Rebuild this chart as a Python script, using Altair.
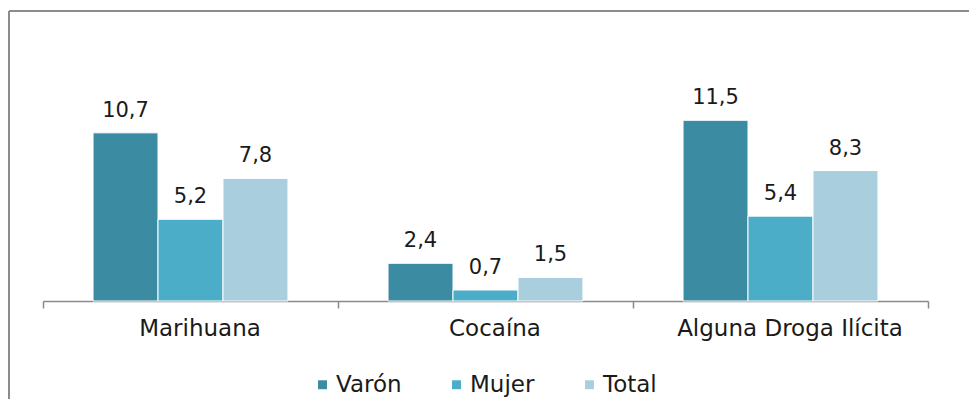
import altair as alt
import pandas as pd

categories = ["Marihuana", "Cocaína", "Alguna Droga Ilícita"]
series = ["Varón", "Mujer", "Total"]
varon = [10.7, 2.4, 11.5]
mujer = [5.2, 0.7, 5.4]
total = [7.8, 1.5, 8.3]
colors = ["#3b8ba3", "#4badc7", "#a9cfde"]

rows = []
for i, c in enumerate(categories):
    for s, vals in zip(series, [varon, mujer, total]):
        rows.append({"cat": c, "serie": s, "valor": vals[i],
                     "etiqueta": f"{vals[i]:.1f}".replace(".", ",")})
df = pd.DataFrame(rows)

FONT = "DejaVu Sans"

x_enc = alt.X("cat:N", sort=categories, title=None,
              scale=alt.Scale(paddingInner=0, paddingOuter=0),
              axis=alt.Axis(tickBand="extent", labelAngle=0, labelFontSize=23,
                            labelFont=FONT, labelColor="#1a1a1a", labelPadding=9,
                            labelLimit=0, labelOffset=9,
                            tickSize=7, tickColor="#8a8a8a", domainColor="#8a8a8a",
                            domainWidth=1.5, tickWidth=1.5, grid=False))
xo_enc = alt.XOffset("serie:N", sort=series,
                     scale=alt.Scale(paddingInner=0, paddingOuter=0.77))
y_scale = alt.Scale(domain=[0, 14])

base = alt.Chart(df)

bars = base.mark_bar(stroke="white", strokeWidth=1).encode(
    x=x_enc,
    xOffset=xo_enc,
    y=alt.Y("valor:Q", scale=y_scale, axis=None),
    color=alt.Color("serie:N", sort=series,
                    scale=alt.Scale(domain=series, range=colors),
                    legend=alt.Legend(title=None, orient="none", direction="horizontal",
                                      legendX=268, legendY=292, symbolType="square",
                                      symbolSize=80, symbolStrokeWidth=0,
                                      labelFontSize=23, labelFont=FONT,
                                      labelColor="#1a1a1a", labelOffset=2,
                                      columnPadding=43)),
)

labels = base.mark_text(baseline="alphabetic", dy=-16, fontSize=21, font=FONT,
                        color="#1a1a1a").encode(
    x=x_enc,
    xOffset=xo_enc,
    y=alt.Y("valor:Q", scale=y_scale, axis=None),
    text="etiqueta:N",
)

frame_data = alt.Data(values=[{"a": 1}])
top_line = alt.Chart(frame_data).mark_rule(color="#8c8c8c", strokeWidth=2).encode(
    x=alt.value(-34), x2=alt.value(1000), y=alt.value(-70))
left_line = alt.Chart(frame_data).mark_rule(color="#8c8c8c", strokeWidth=2).encode(
    x=alt.value(-34), y=alt.value(-70), y2=alt.value(400))

chart = alt.layer(bars, labels, top_line, left_line).properties(
    width=885, height=220,
    autosize=alt.AutoSizeParams(type="none"),
    padding={"left": 35, "top": 73, "right": 41, "bottom": 98},
).configure(background="white").configure_view(stroke=None)

chart.save("out.html", embed_options={"renderer": "svg", "actions": False})
